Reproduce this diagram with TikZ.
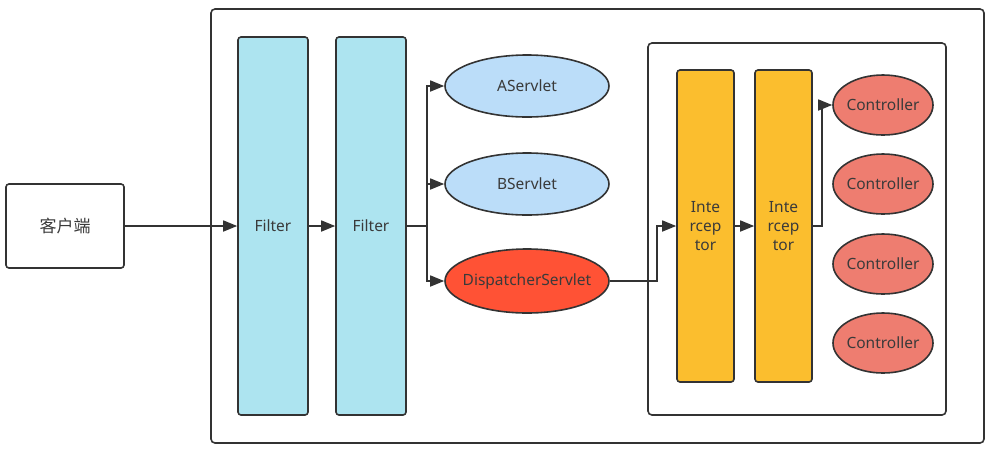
\documentclass[tikz,border=0pt]{standalone}
\usepackage{fontspec}
\setmainfont{Noto Sans}
\newfontfamily\cjk{Noto Sans CJK SC}
\usetikzlibrary{arrows.meta,shapes.geometric}
\definecolor{stroke}{HTML}{333333}
\definecolor{filterfill}{HTML}{ADE4F0}
\definecolor{servletfill}{HTML}{BBDDF9}
\definecolor{dispfill}{HTML}{FF5235}
\definecolor{interfill}{HTML}{FBBE2E}
\definecolor{ctrlfill}{HTML}{EE7D70}
\definecolor{txt}{HTML}{3A3A3A}
\tikzset{
  box/.style={draw=stroke, line width=1.6pt, rounded corners=3pt, inner sep=0pt},
  filterbox/.style={box, fill=filterfill, minimum width=70pt, minimum height=378pt, text=txt, font=\fontsize{15.5}{18}\selectfont},
  interbox/.style={box, fill=interfill, minimum width=57pt, minimum height=312pt, text=txt, align=center, font=\fontsize{15.5}{19}\selectfont},
  servlet/.style={ellipse, draw=stroke, line width=1.6pt, inner sep=0pt, minimum width=164pt, minimum height=62pt, text=txt, font=\fontsize{15.5}{18}\selectfont},
  ctrl/.style={ellipse, draw=stroke, line width=1.6pt, inner sep=0pt, fill=ctrlfill, minimum width=100pt, minimum height=60pt, text=txt, font=\fontsize{15.5}{18}\selectfont},
  frame/.style={draw=stroke, line width=1.6pt, rounded corners=4pt},
  arr/.style={draw=stroke, line width=1.6pt, -{Triangle[length=14pt,width=11pt]}},
}
\begin{document}
\begin{tikzpicture}[x=1pt,y=-1pt]
\useasboundingbox (0,0) rectangle (1007,459);
% frames
\draw[frame] (211,9) rectangle (984,443);
\draw[frame] (648,43) rectangle (946,415);
% client
\node[box, minimum width=118pt, minimum height=84pt, text=txt, font=\cjk\fontsize{17}{20}\selectfont] (client) at (65,226) {客户端};
% filters
\node[filterbox] (f1) at (273,226) {Filter};
\node[filterbox] (f2) at (371,226) {Filter};
% servlets
\node[servlet, fill=servletfill] (as) at (527,86) {\makebox[0pt]{AServlet}};
\node[servlet, fill=servletfill] (bs) at (527,184) {\makebox[0pt]{BServlet}};
\node[servlet, fill=dispfill, minimum height=64pt] (ds) at (527,281) {\makebox[0pt]{DispatcherServlet}};
% interceptors
\node[interbox] (i1) at (705.5,226) {Inte\\rcep\\tor};
\node[interbox] (i2) at (783.5,226) {Inte\\rcep\\tor};
% controllers
\node[ctrl] (c1) at (883,105) {\makebox[0pt]{Controller}};
\node[ctrl] (c2) at (883,184) {\makebox[0pt]{Controller}};
\node[ctrl] (c3) at (883,264) {\makebox[0pt]{Controller}};
\node[ctrl] (c4) at (883,343) {\makebox[0pt]{Controller}};
% junction points
\coordinate (br) at (427,226);
\coordinate (dj) at (657,281);
\coordinate (cj) at (822,226);
% connectors
\draw[arr] (client.east) -- (f1.west);
\draw[arr] (f1.east) -- (f2.west);
\draw[arr] (f2.east) -- (br) |- (as.west);
\draw[arr] (f2.east) -- (br) |- (bs.west);
\draw[arr] (f2.east) -- (br) |- (ds.west);
\draw[arr] (ds.east) -- (dj) |- (i1.west);
\draw[arr] (i1.east) -- (i2.west);
\draw[arr] (i2.east) -- (cj) |- (c1.west);
\end{tikzpicture}
\end{document}
